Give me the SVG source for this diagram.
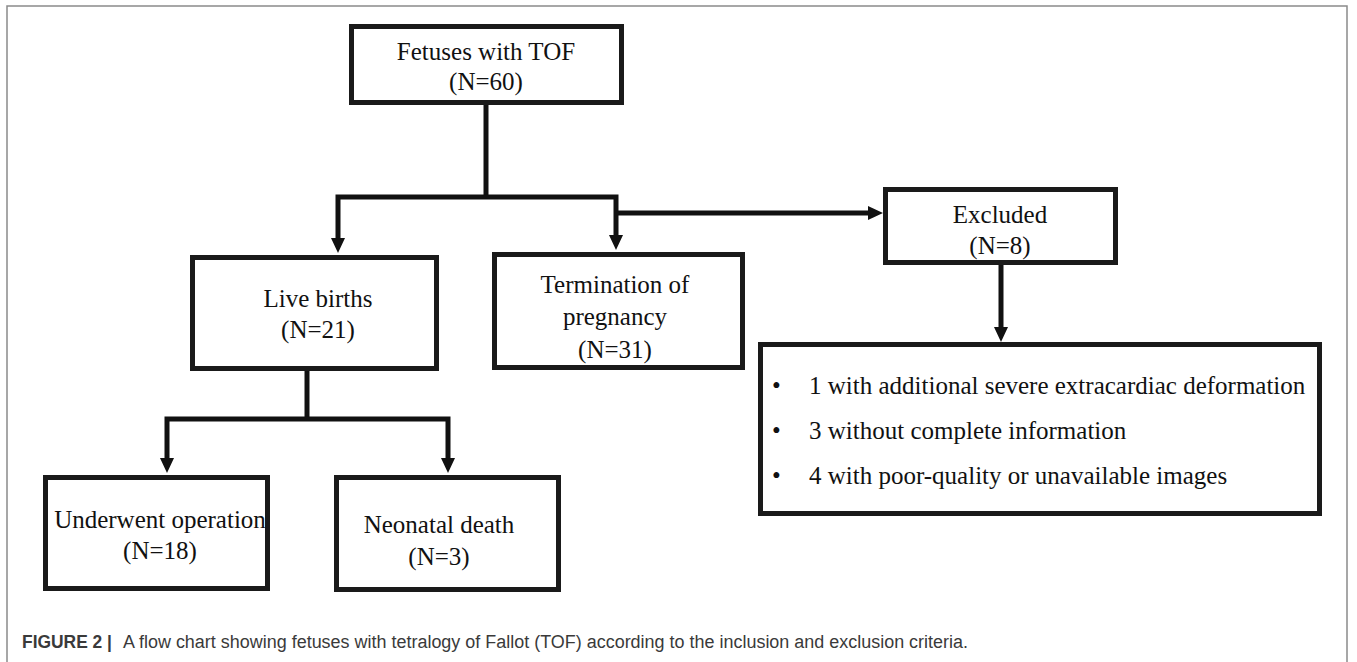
<svg xmlns="http://www.w3.org/2000/svg" width="1357" height="662" viewBox="0 0 1357 662">
<style>
.box{fill:#fff;stroke:#1a1a1a;stroke-width:5}
.t{font-family:"Liberation Serif","Times New Roman",serif;font-size:25px;fill:#111}
.c{fill:none;stroke:#111;stroke-width:5;stroke-linejoin:miter}
.cap{font-family:"Liberation Sans",Arial,sans-serif;font-size:18px;fill:#3a3a3a}
</style>
<defs>
<marker id="ah" markerUnits="userSpaceOnUse" markerWidth="15" markerHeight="14" refX="5" refY="7" orient="auto">
<path d="M0,0 L15,7 L0,14 z" fill="#111"/>
</marker>
</defs>
<rect x="7" y="6" width="1340" height="720" fill="none" stroke="#8a8a8a" stroke-width="1.5"/>
<g id="connectors">
<path class="c" d="M486,105 V197"/>
<path class="c" d="M486,197 H338 V243" marker-end="url(#ah)"/>
<path class="c" d="M486,197 H616 V240" marker-end="url(#ah)"/>
<path class="c" d="M616,213 H873" marker-end="url(#ah)"/>
<path class="c" d="M1001,265 V332" marker-end="url(#ah)"/>
<path class="c" d="M307,371 V419"/>
<path class="c" d="M307,419 H167 V463" marker-end="url(#ah)"/>
<path class="c" d="M307,419 H448 V463" marker-end="url(#ah)"/>
</g>
<g id="fetuses">
<rect class="box" x="351.5" y="26.5" width="270" height="76"/>
<text class="t" x="486" y="60" text-anchor="middle">Fetuses with TOF</text>
<text class="t" x="486" y="90" text-anchor="middle">(N=60)</text>
</g>
<g id="live-births">
<rect class="box" x="192.5" y="257.5" width="244" height="111"/>
<text class="t" x="318" y="307" text-anchor="middle">Live births</text>
<text class="t" x="318" y="338" text-anchor="middle">(N=21)</text>
</g>
<g id="termination">
<rect class="box" x="494.5" y="254.5" width="248" height="113"/>
<text class="t" x="615" y="293" text-anchor="middle">Termination of</text>
<text class="t" x="615" y="325" text-anchor="middle">pregnancy</text>
<text class="t" x="615" y="358" text-anchor="middle">(N=31)</text>
</g>
<g id="excluded">
<rect class="box" x="885.5" y="189.5" width="230" height="73"/>
<text class="t" x="1000" y="223" text-anchor="middle">Excluded</text>
<text class="t" x="1000" y="254" text-anchor="middle">(N=8)</text>
</g>
<g id="exclusion-reasons">
<rect class="box" x="760.5" y="344.5" width="559" height="169"/>
<text class="t" x="772" y="394">•</text>
<text class="t" x="809" y="394">1 with additional severe extracardiac deformation</text>
<text class="t" x="772" y="439">•</text>
<text class="t" x="809" y="439">3 without complete information</text>
<text class="t" x="772" y="484">•</text>
<text class="t" x="809" y="484">4 with poor-quality or unavailable images</text>
</g>
<g id="underwent">
<rect class="box" x="45.5" y="477.5" width="222" height="111"/>
<text class="t" x="160" y="528" text-anchor="middle">Underwent operation</text>
<text class="t" x="160" y="559" text-anchor="middle">(N=18)</text>
</g>
<g id="neonatal">
<rect class="box" x="336.5" y="477.5" width="222" height="112"/>
<text class="t" x="439" y="533" text-anchor="middle">Neonatal death</text>
<text class="t" x="439" y="565" text-anchor="middle">(N=3)</text>
</g>
<text class="cap" x="22" y="648" font-weight="bold" fill="#333" textLength="90" lengthAdjust="spacingAndGlyphs">FIGURE 2 |</text>
<text class="cap" x="123" y="648" textLength="845" lengthAdjust="spacingAndGlyphs">A flow chart showing fetuses with tetralogy of Fallot (TOF) according to the inclusion and exclusion criteria.</text>
</svg>
